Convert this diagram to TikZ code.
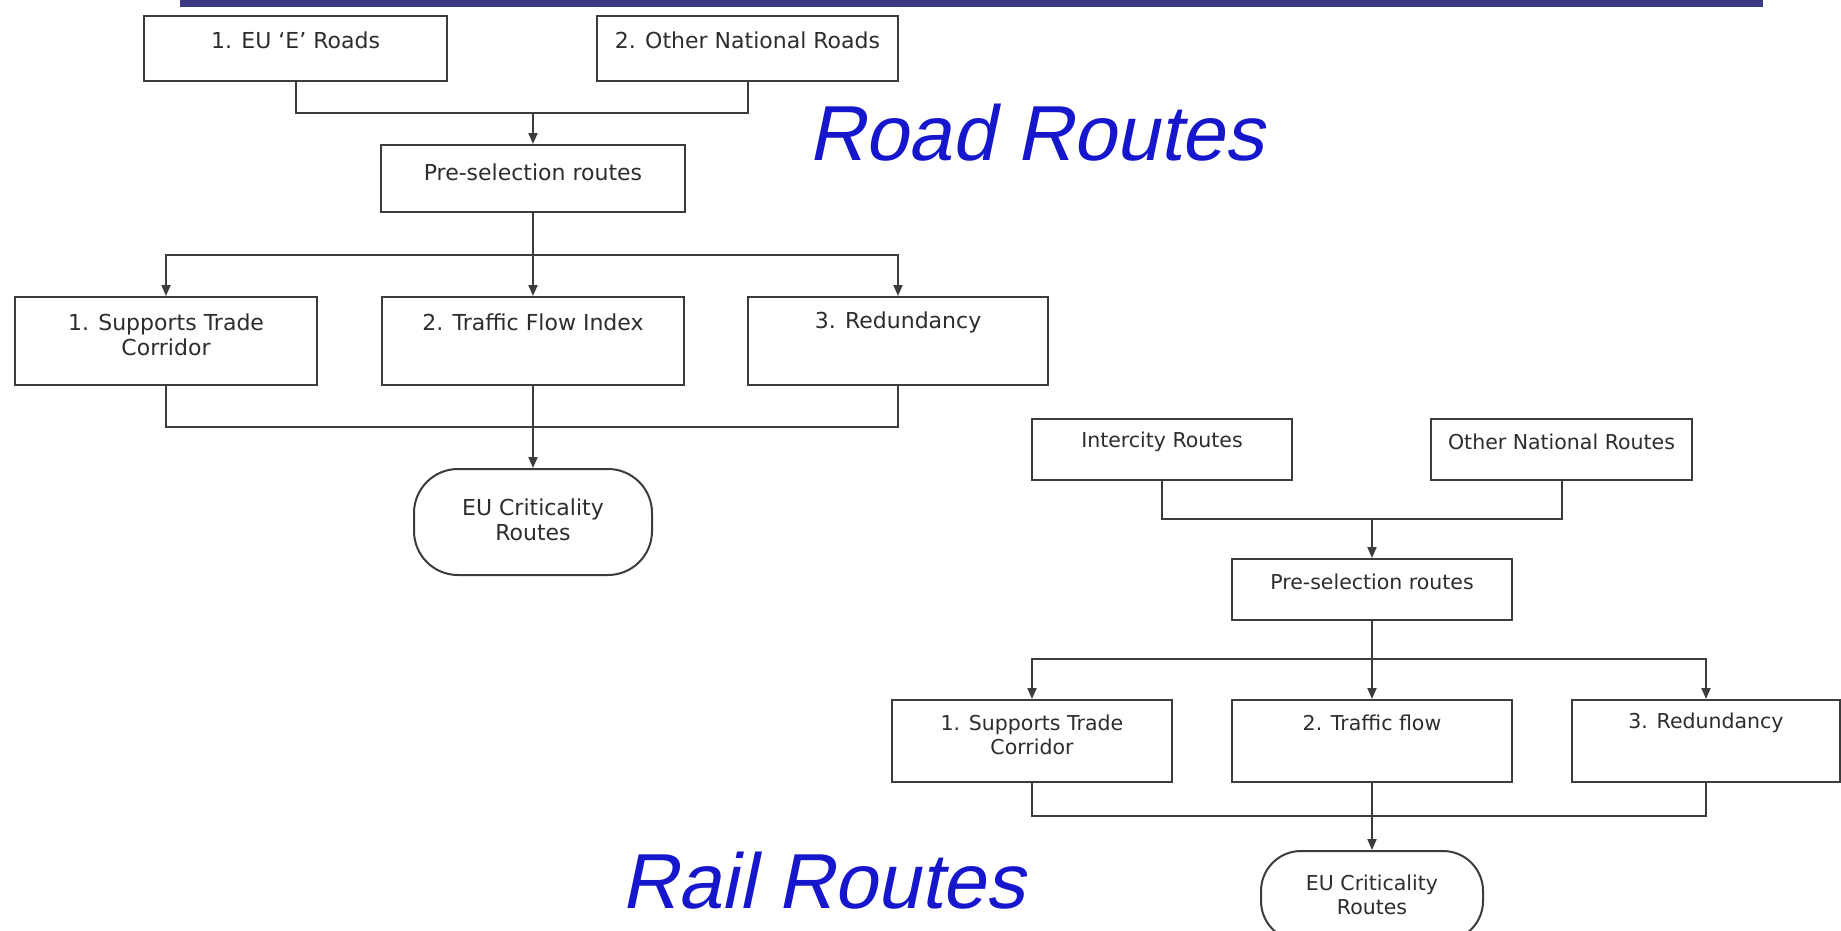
\documentclass[tikz,border=0pt]{standalone}
\usepackage{fontspec}
\setmainfont{DejaVu Sans}
\newfontfamily\titlefont{Liberation Sans}[FakeSlant=0.21]
\usetikzlibrary{arrows.meta}

\definecolor{barblue}{RGB}{58,58,132}
\definecolor{titleblue}{RGB}{22,22,205}
\definecolor{linegray}{RGB}{60,60,60}
\definecolor{txtgray}{RGB}{45,45,45}

\tikzset{
  box/.style={draw=linegray, line width=2pt, fill=white, rectangle, inner sep=0pt},
  term/.style={draw=linegray, line width=2pt, fill=white, rectangle,
    rounded corners=44pt, inner sep=0pt},
  roadtxt/.style={text=txtgray, align=center, inner sep=0pt,
    font=\fontsize{22}{25}\selectfont},
  railtxt/.style={text=txtgray, align=center, inner sep=0pt,
    font=\fontsize{20.5}{24}\selectfont},
  conn/.style={draw=linegray, line width=2pt},
  arr/.style={conn, -{Triangle[length=11pt,width=9pt]}},
  heading/.style={text=titleblue, inner sep=0pt, anchor=base west,
    font=\titlefont\fontsize{78}{80}\selectfont},
}

\begin{document}
\begin{tikzpicture}[x=1pt,y=-1pt]
\useasboundingbox (0,0) rectangle (1841,930);
\fill[white] (0,0) rectangle (1841,930);

% header rule
\fill[barblue] (180,0) rectangle (1763,7);

% ---------------- road routes ----------------
\node[box, minimum width=303, minimum height=65] (e1) at (295.5,48.5) {};
\node[roadtxt] (e1t) at (295.5,40) {1. EU `E' Roads};
\node[box, minimum width=301, minimum height=65] (e2) at (747.5,48.5) {};
\node[roadtxt] (e2t) at (747.5,40) {2. Other National Roads};

\node[box, minimum width=304, minimum height=67] (rpre) at (533,178.5) {};
\node[roadtxt] (rpret) at (533,172) {Pre-selection routes};

\node[box, minimum width=302, minimum height=88] (rc1) at (166,341) {};
\node[roadtxt] (rc1t) at (166,334.5) {1. Supports Trade\\Corridor};
\node[box, minimum width=302, minimum height=88] (rc2) at (533,341) {};
\node[roadtxt] (rc2t) at (533,322) {2. Traffic Flow Index};
\node[box, minimum width=300, minimum height=88] (rc3) at (898,341) {};
\node[roadtxt] (rc3t) at (898,322) {3. Redundancy};

\node[term, minimum width=238, minimum height=106] (rend) at (533,522) {};
\node[roadtxt] (rendt) at (533,520) {EU Criticality\\Routes};

\coordinate (rj1) at (533,113);
\coordinate (rb)  at (533,255);
\coordinate (rj2) at (533,427);

\draw[conn] (e1.south) |- (rj1) -| (e2.south);
\draw[arr] (rj1) -- (rpre.north);
\draw[conn] (rpre.south) -- (rb);
\draw[arr] (rb) -| (rc1.north);
\draw[arr] (rb) -- (rc2.north);
\draw[arr] (rb) -| (rc3.north);
\draw[conn] (rc1.south) |- (rj2) -| (rc3.south);
\draw[conn] (rc2.south) -- (rj2);
\draw[arr] (rj2) -- (rend.north);

\node[heading] (roadhead) at (808,160) {Road Routes};

% ---------------- rail routes ----------------
\node[box, minimum width=260, minimum height=61] (ic) at (1162,449.5) {};
\node[railtxt] (ict) at (1162,442) {Intercity Routes};
\node[box, minimum width=261, minimum height=61] (onr) at (1561.5,449.5) {};
\node[railtxt] (onrt) at (1561.5,442) {Other National Routes};

\node[box, minimum width=280, minimum height=61] (lpre) at (1372,589.5) {};
\node[railtxt] (lpret) at (1372,582) {Pre-selection routes};

\node[box, minimum width=280, minimum height=82] (lc1) at (1032,741) {};
\node[railtxt] (lc1t) at (1032,734.5) {1. Supports Trade\\Corridor};
\node[box, minimum width=280, minimum height=82] (lc2) at (1372,741) {};
\node[railtxt] (lc2t) at (1372,723) {2. Traffic flow};
\node[box, minimum width=268, minimum height=82] (lc3) at (1706,741) {};
\node[railtxt] (lc3t) at (1706,723) {3. Redundancy};

\node[term, rounded corners=40pt, minimum width=222, minimum height=90] (lend) at (1372,896) {};
\node[railtxt] (lendt) at (1372,895) {EU Criticality\\Routes};

\coordinate (lj1) at (1372,519);
\coordinate (lb)  at (1372,659);
\coordinate (lj2) at (1372,816);

\draw[conn] (ic.south) |- (lj1) -| (onr.south);
\draw[arr] (lj1) -- (lpre.north);
\draw[conn] (lpre.south) -- (lb);
\draw[arr] (lb) -| (lc1.north);
\draw[arr] (lb) -- (lc2.north);
\draw[arr] (lb) -| (lc3.north);
\draw[conn] (lc1.south) |- (lj2) -| (lc3.south);
\draw[conn] (lc2.south) -- (lj2);
\draw[arr] (lj2) -- (lend.north);

\node[heading] (railhead) at (621,908) {Rail Routes};
\end{tikzpicture}
\end{document}
